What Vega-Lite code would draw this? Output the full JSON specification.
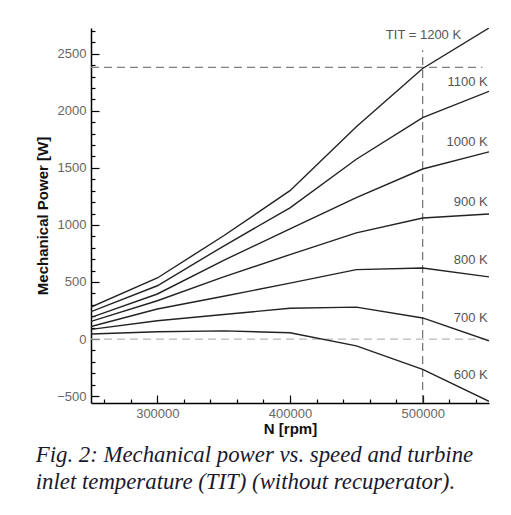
{
  "$schema": "https://vega.github.io/schema/vega-lite/v6.json",
  "width": 398,
  "height": 375,
  "padding": {"left": 35, "top": 28, "right": 5, "bottom": 5},
  "background": "white",
  "config": {"view": {"stroke": null}},
  "title": {
    "text": ["Fig. 2: Mechanical power vs. speed and turbine", "inlet temperature (TIT) (without recuperator)."],
    "orient": "bottom",
    "anchor": "start",
    "frame": "bounds",
    "font": "Liberation Serif",
    "fontStyle": "italic",
    "fontWeight": "normal",
    "fontSize": 22.8,
    "lineHeight": 27,
    "color": "#1a1a2e",
    "offset": 8
  },
  "datasets": {
    "curves": [
      {"TIT": "1200 K", "N": 250000, "P": 280}, {"TIT": "1200 K", "N": 300000, "P": 535}, {"TIT": "1200 K", "N": 350000, "P": 905}, {"TIT": "1200 K", "N": 400000, "P": 1300}, {"TIT": "1200 K", "N": 450000, "P": 1860}, {"TIT": "1200 K", "N": 500000, "P": 2370}, {"TIT": "1200 K", "N": 550000, "P": 2725},
      {"TIT": "1100 K", "N": 250000, "P": 240}, {"TIT": "1100 K", "N": 300000, "P": 467}, {"TIT": "1100 K", "N": 350000, "P": 815}, {"TIT": "1100 K", "N": 400000, "P": 1150}, {"TIT": "1100 K", "N": 450000, "P": 1575}, {"TIT": "1100 K", "N": 500000, "P": 1940}, {"TIT": "1100 K", "N": 550000, "P": 2170},
      {"TIT": "1000 K", "N": 250000, "P": 190}, {"TIT": "1000 K", "N": 300000, "P": 395}, {"TIT": "1000 K", "N": 350000, "P": 690}, {"TIT": "1000 K", "N": 400000, "P": 965}, {"TIT": "1000 K", "N": 450000, "P": 1240}, {"TIT": "1000 K", "N": 500000, "P": 1490}, {"TIT": "1000 K", "N": 550000, "P": 1640},
      {"TIT": "900 K", "N": 250000, "P": 155}, {"TIT": "900 K", "N": 300000, "P": 336}, {"TIT": "900 K", "N": 350000, "P": 545}, {"TIT": "900 K", "N": 400000, "P": 740}, {"TIT": "900 K", "N": 450000, "P": 930}, {"TIT": "900 K", "N": 500000, "P": 1060}, {"TIT": "900 K", "N": 550000, "P": 1095},
      {"TIT": "800 K", "N": 250000, "P": 110}, {"TIT": "800 K", "N": 300000, "P": 263}, {"TIT": "800 K", "N": 350000, "P": 375}, {"TIT": "800 K", "N": 400000, "P": 490}, {"TIT": "800 K", "N": 450000, "P": 608}, {"TIT": "800 K", "N": 500000, "P": 622}, {"TIT": "800 K", "N": 550000, "P": 545},
      {"TIT": "700 K", "N": 250000, "P": 85}, {"TIT": "700 K", "N": 300000, "P": 160}, {"TIT": "700 K", "N": 350000, "P": 215}, {"TIT": "700 K", "N": 400000, "P": 270}, {"TIT": "700 K", "N": 450000, "P": 280}, {"TIT": "700 K", "N": 500000, "P": 185}, {"TIT": "700 K", "N": 550000, "P": -15},
      {"TIT": "600 K", "N": 250000, "P": 45}, {"TIT": "600 K", "N": 300000, "P": 64}, {"TIT": "600 K", "N": 350000, "P": 72}, {"TIT": "600 K", "N": 400000, "P": 55}, {"TIT": "600 K", "N": 450000, "P": -60}, {"TIT": "600 K", "N": 500000, "P": -265}, {"TIT": "600 K", "N": 550000, "P": -545}
    ],
    "hrules": [
      {"kind": "max", "P": 2380, "N1": 250000, "N2": 545000},
      {"kind": "zero", "P": 0, "N1": 250000, "N2": 545000}
    ],
    "vrules": [
      {"N": 500000, "P1": -560, "P2": 2530}
    ],
    "labels": [
      {"label": "TIT = 1200 K", "N": 529000, "P": 2660},
      {"label": "1100 K", "N": 549000, "P": 2248},
      {"label": "1000 K", "N": 549000, "P": 1722},
      {"label": "900 K", "N": 549000, "P": 1204},
      {"label": "800 K", "N": 549000, "P": 696},
      {"label": "700 K", "N": 549000, "P": 187},
      {"label": "600 K", "N": 549000, "P": -313}
    ]
  },
  "encoding": {
    "x": {
      "type": "quantitative",
      "scale": {"domain": [250000, 550000], "nice": false, "zero": false},
      "axis": {
        "title": "N [rpm]",
        "values": [260000, 280000, 300000, 320000, 340000, 360000, 380000, 400000, 420000, 440000, 460000, 480000, 500000, 520000, 540000],
        "format": "d",
        "labelExpr": "datum.value % 100000 === 0 ? datum.label : ''",
        "tickSize": {"condition": {"test": "datum.value % 100000 === 0", "value": -8}, "value": -4},
        "tickColor": "#000",
        "tickWidth": 1.2,
        "domainColor": "#000",
        "domainWidth": 1.5,
        "grid": false,
        "labelColor": "#666",
        "labelFont": "Liberation Sans",
        "labelFontSize": 13,
        "labelPadding": 12,
        "titleFont": "Liberation Sans",
        "titleFontSize": 15,
        "titleFontWeight": "bold",
        "titleColor": "#111",
        "titlePadding": 1
      }
    },
    "y": {
      "type": "quantitative",
      "scale": {"domain": [-560, 2725], "nice": false, "zero": false},
      "axis": {
        "title": "Mechanical Power [W]",
        "values": [-500, -400, -300, -200, -100, 0, 100, 200, 300, 400, 500, 600, 700, 800, 900, 1000, 1100, 1200, 1300, 1400, 1500, 1600, 1700, 1800, 1900, 2000, 2100, 2200, 2300, 2400, 2500, 2600, 2700],
        "format": "d",
        "labelExpr": "datum.value % 500 === 0 ? datum.label : ''",
        "tickSize": {"condition": {"test": "datum.value % 500 === 0", "value": -8}, "value": -4},
        "tickColor": "#000",
        "tickWidth": 1.2,
        "domainColor": "#000",
        "domainWidth": 1.5,
        "grid": false,
        "labelColor": "#666",
        "labelFont": "Liberation Sans",
        "labelFontSize": 13,
        "labelPadding": 13,
        "titleFont": "Liberation Sans",
        "titleFontSize": 15,
        "titleFontWeight": "bold",
        "titleColor": "#111",
        "titlePadding": 6
      }
    }
  },
  "layer": [
    {
      "data": {"name": "hrules"},
      "mark": {"type": "rule", "strokeDash": [8, 5], "strokeWidth": 1.2},
      "encoding": {
        "y": {"field": "P", "type": "quantitative"},
        "x": {"field": "N1", "type": "quantitative"},
        "x2": {"field": "N2"},
        "color": {"field": "kind", "type": "nominal", "scale": {"domain": ["max", "zero"], "range": ["#808080", "#b8b8b8"]}, "legend": null}
      }
    },
    {
      "data": {"name": "vrules"},
      "mark": {"type": "rule", "strokeDash": [8, 5], "strokeWidth": 1.2, "color": "#707070"},
      "encoding": {
        "x": {"field": "N", "type": "quantitative"},
        "y": {"field": "P1", "type": "quantitative"},
        "y2": {"field": "P2"}
      }
    },
    {
      "data": {"name": "curves"},
      "mark": {"type": "line", "color": "#222", "strokeWidth": 1.4, "clip": true},
      "encoding": {
        "x": {"field": "N", "type": "quantitative"},
        "y": {"field": "P", "type": "quantitative"},
        "detail": {"field": "TIT", "type": "nominal"}
      }
    },
    {
      "data": {"name": "labels"},
      "mark": {"type": "text", "align": "right", "baseline": "middle", "font": "Liberation Sans", "fontSize": 13, "color": "#555"},
      "encoding": {
        "x": {"field": "N", "type": "quantitative"},
        "y": {"field": "P", "type": "quantitative"},
        "text": {"field": "label", "type": "nominal"}
      }
    }
  ]
}
